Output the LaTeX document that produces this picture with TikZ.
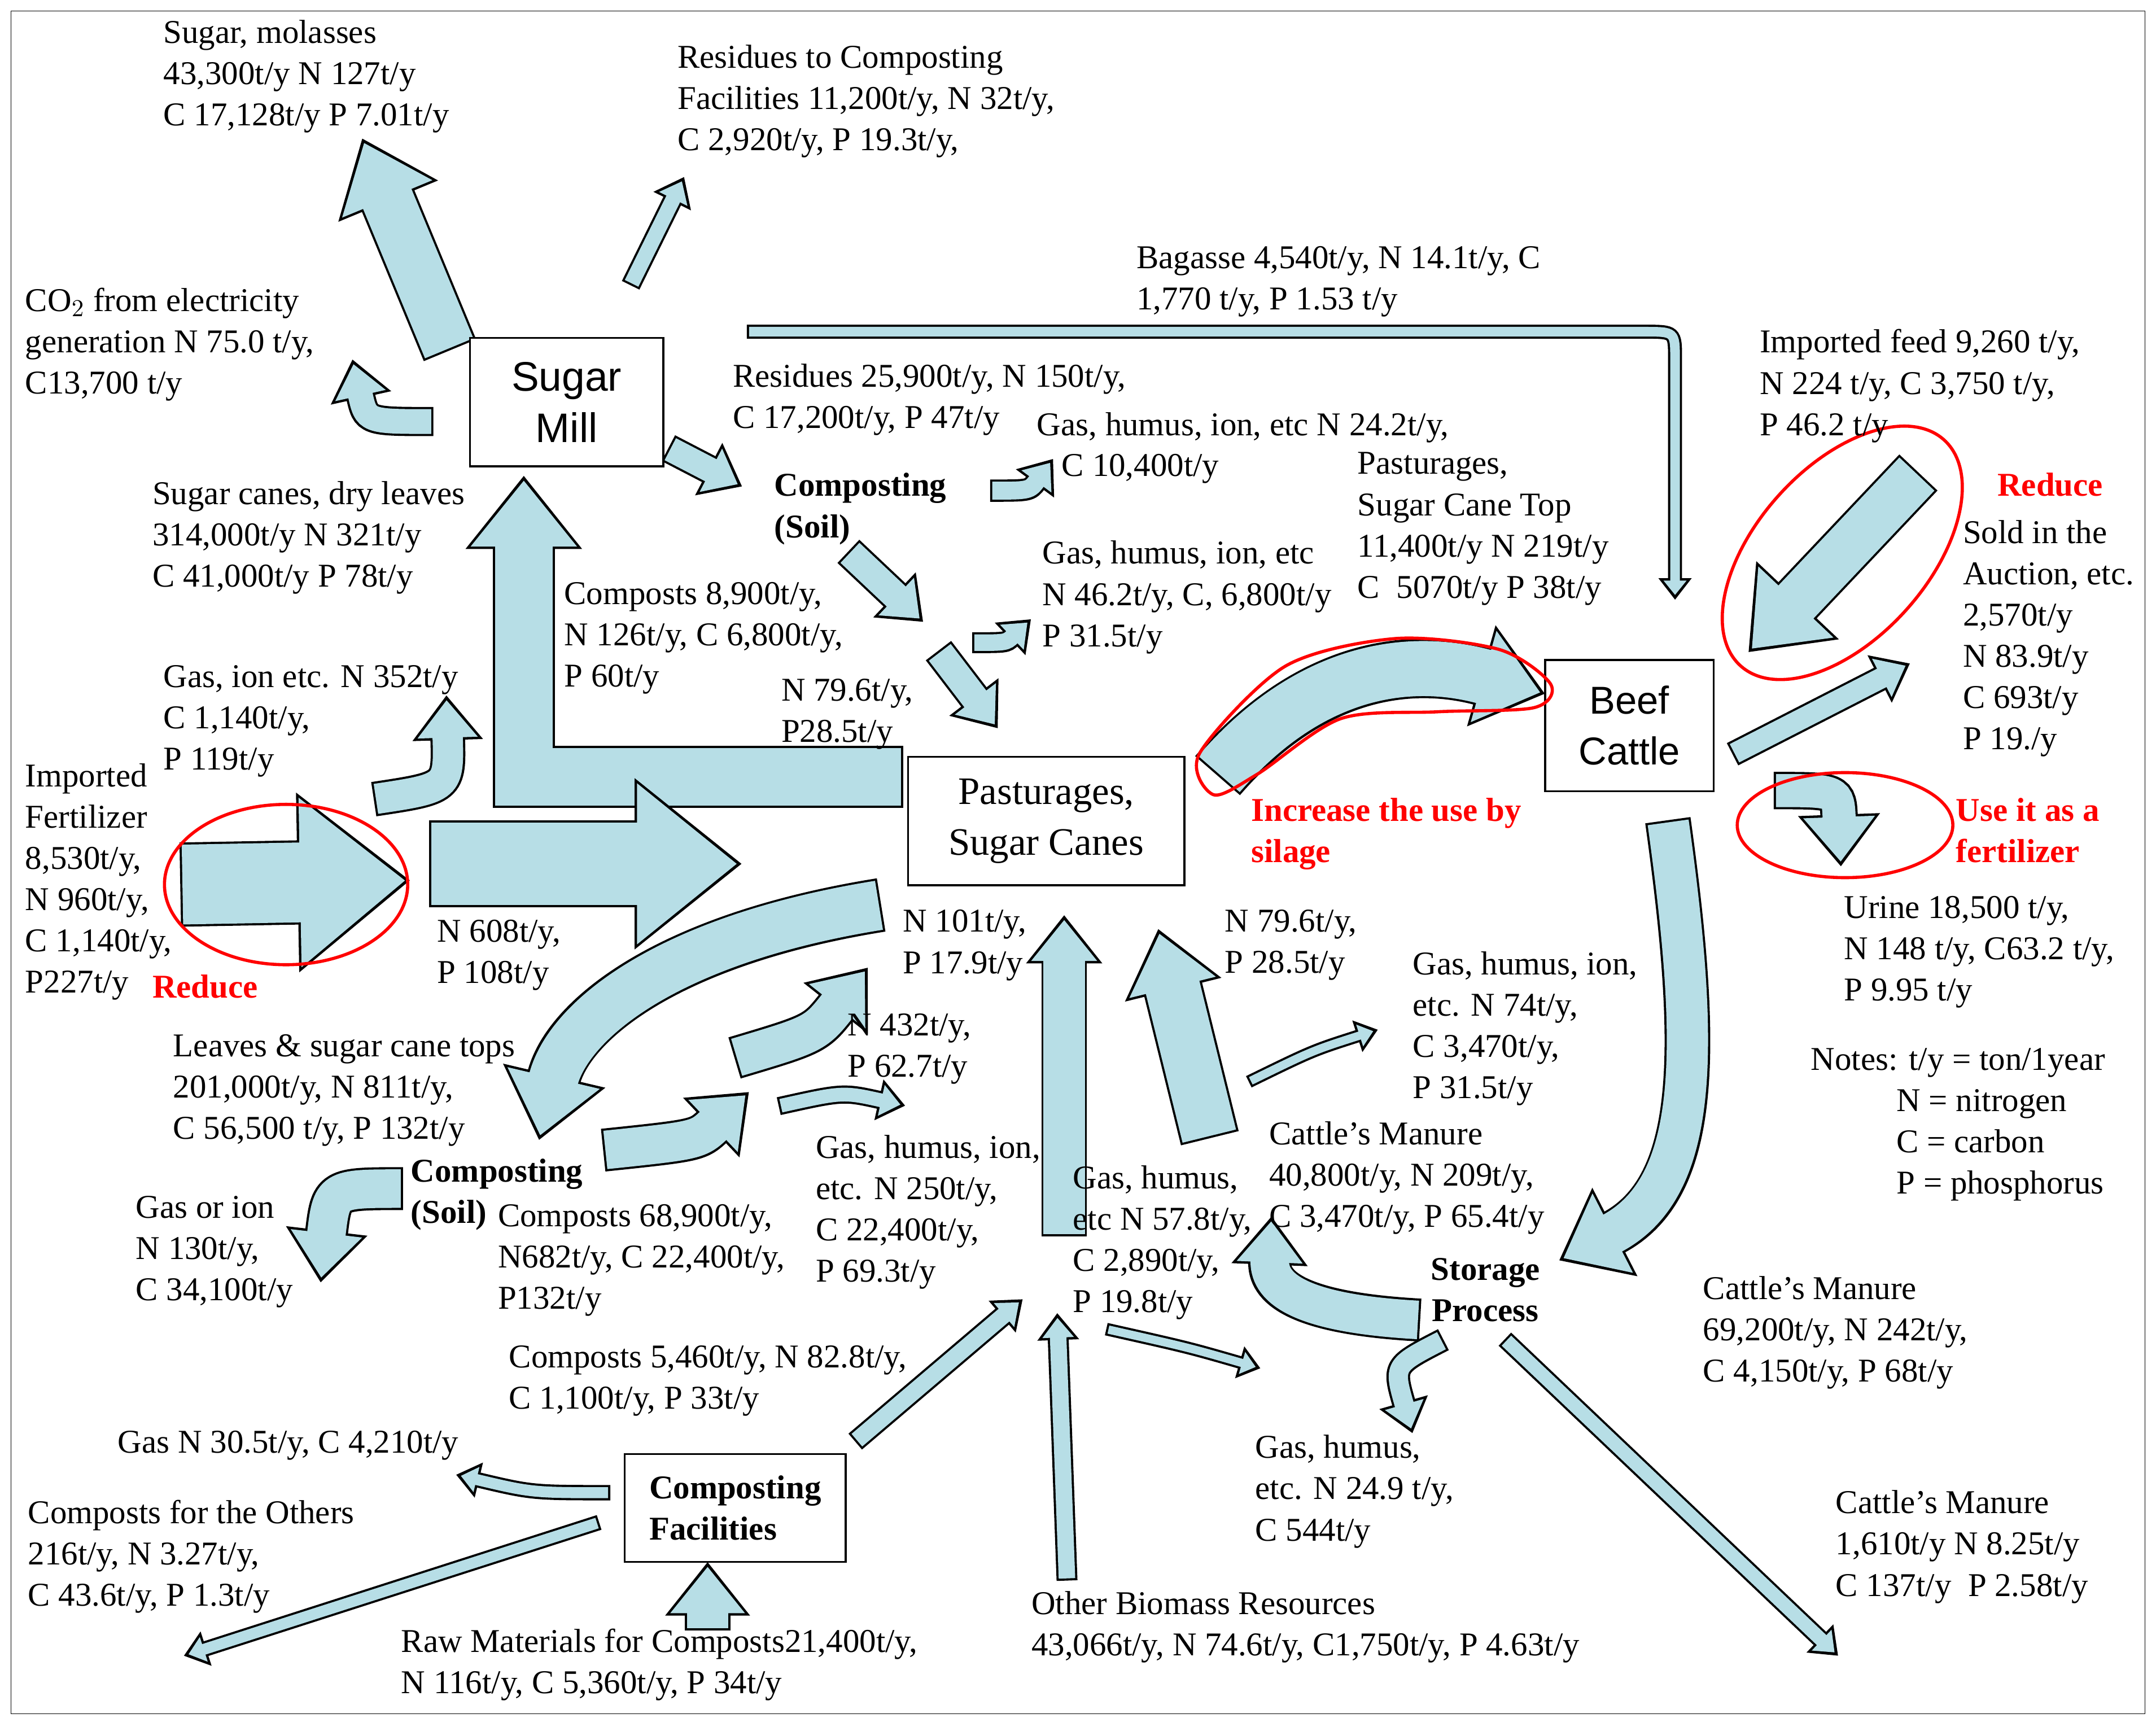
\documentclass[tikz,border=0pt]{standalone}
\usepackage{fontspec}
\setmainfont{Liberation Serif}
\newfontfamily\sans{Liberation Sans}
\usetikzlibrary{arrows.meta,calc}
\definecolor{flowblue}{RGB}{183,222,230}
\tikzset{
  lbl/.style={anchor=north west,inner sep=0pt,align=left,font=\fontsize{13.7}{17}\selectfont},
  bold/.style={lbl,font=\fontsize{13.7}{17}\selectfont\bfseries},
  redbold/.style={bold,text=red},
  box/.style={draw,thick,fill=white,align=center},
  redring/.style={red,line width=1.3pt}
}
% block arrow: shaft width, head width (px), path
\newcommand\flow[3]{%
  \pgfmathsetmacro\fs{#1*0.567}\pgfmathsetmacro\fh{#2*0.567}%
  \pgfmathsetmacro\fso{\fs+1.8}\pgfmathsetmacro\fho{\fh+4}%
  \pgfmathsetmacro\fl{0.65*\fh}\pgfmathsetmacro\flo{\fl+3}%
  \draw[line width=\fso pt,line join=miter,shorten <=-0.9pt,-{Triangle[width=\fho pt,length=\flo pt]}] #3;
  \draw[flowblue,line width=\fs pt,line join=miter,shorten >=2pt,-{Triangle[width=\fh pt,length=\fl pt]}] #3;}
\begin{document}
\begin{tikzpicture}[x=0.02cm,y=-0.02cm]
\useasboundingbox (0,0) rectangle (1560,1243);
\draw (8,8) rectangle (1552,1240);

% flows
\flow{38}{68}{(325,252) -- (262,100)}
\flow{11}{22}{(457,205) -- (495,128)}
\flow{18}{36}{(312,305) .. controls (265,305) .. (255,260)}
\flow{7}{16}{(542,240) -- (1190,240) .. controls (1212,240) .. (1212,260) -- (1212,434)}
\flow{18}{34}{(485,325) -- (537,352)}
\flow{13}{26}{(718,355) .. controls (745,355) .. (762,332)}
\flow{20}{36}{(615,400) -- (668,450)}
\flow{12}{24}{(705,465) .. controls (728,465) .. (746,448)}
\flow{20}{36}{(680,472) -- (722,527)}
\flow{42}{74}{(652,562) -- (379,562) -- (379,344)}
\flow{22}{42}{(272,578) .. controls (325,570) .. (323,503)}
\flow{58}{118}{(132,640) -- (297,637)}
\flow{60}{112}{(312,625) -- (537,625)}
\flow{36}{66}{(636,655) .. controls (480,680) and (410,740) .. (390,825)}
\flow{28}{50}{(533,765) .. controls (590,748) .. (628,700)}
\flow{28}{50}{(438,832) .. controls (505,825) .. (542,790)}
\flow{10}{22}{(565,800) .. controls (610,790) .. (655,800)}
\flow{30}{46}{(770,893) -- (770,662)}
\flow{40}{62}{(875,822) -- (838,672)}
\flow{6}{16}{(905,782) .. controls (950,760) .. (997,745)}
\flow{40}{66}{(882,560) .. controls (960,470) and (1040,480) .. (1118,502)}
\flow{35}{72}{(1387,343) -- (1265,472)}
\flow{15}{30}{(1255,545) -- (1382,480)}
\flow{24}{50}{(1285,572) .. controls (1330,572) .. (1332,627)}
\flow{30}{62}{(1207,595) .. controls (1230,760) and (1230,860) .. (1128,912)}
\flow{28}{46}{(1026,955) .. controls (935,950) and (918,930) .. (920,880)}
\flow{14}{28}{(1043,970) .. controls (1008,988) .. (1022,1037)}
\flow{10}{20}{(1090,970) -- (1330,1198)}
\flow{12}{22}{(772,1142) -- (765,950)}
\flow{6}{16}{(802,962) .. controls (860,975) .. (912,990)}
\flow{12}{22}{(620,1042) -- (740,940)}
\flow{8}{18}{(440,1080) .. controls (385,1080) .. (330,1067)}
\flow{8}{18}{(432,1102) -- (133,1198)}
\flow{30}{52}{(512,1178) -- (512,1130)}
\flow{28}{50}{(290,860) .. controls (240,860) .. (232,928)}

% boxes
\node[box,minimum width=2.8cm,minimum height=1.86cm,font=\sans\fontsize{17}{21}\selectfont] (mill) at (410,291) {Sugar\\Mill};
\node[box,minimum width=4cm,minimum height=1.86cm,font=\fontsize{16}{21}\selectfont] (pasture) at (757,594) {Pasturages,\\Sugar Canes};
\node[box,minimum width=2.44cm,minimum height=1.9cm,font=\sans\fontsize{16}{21}\selectfont] (beef) at (1179,525) {Beef\\Cattle};
\node[box,minimum width=3.2cm,minimum height=1.56cm,font=\fontsize{13.7}{17}\selectfont\bfseries,align=left] (facil) at (532,1091) {Composting\\Facilities};

% red marks
\draw[redring] (207,640) ellipse[x radius=88,y radius=58];
\draw[redring,rotate around={48:(1333,400)}] (1333,400) ellipse[x radius=110,y radius=62];
\draw[redring] (1335,597) ellipse[x radius=78,y radius=38];
\draw[redring] plot[smooth cycle] coordinates {(868,545) (930,482) (1010,462) (1085,470) (1122,495) (1110,512) (1040,515) (970,520) (910,560) (878,575)};

% labels
\node[lbl] (molasses) at (118,14) {Sugar, molasses\\43,300t/y N 127t/y\\C 17,128t/y P 7.01t/y};
\node[lbl] (resfac) at (490,32) {Residues to Composting\\Facilities 11,200t/y, N 32t/y,\\C 2,920t/y, P 19.3t/y,};
\node[lbl] (co2) at (18,208) {CO$_2$ from electricity\\generation N 75.0 t/y,\\C13,700 t/y};
\node[lbl] (bagasse) at (822,178) {Bagasse 4,540t/y, N 14.1t/y, C\\1,770 t/y, P 1.53 t/y};
\node[lbl] (feed) at (1273,238) {Imported feed 9,260 t/y,\\N 224 t/y, C 3,750 t/y,\\P 46.2 t/y};
\node[lbl] (residues) at (530,263) {Residues 25,900t/y, N 150t/y,\\C 17,200t/y, P 47t/y};
\node[lbl] (gas1) at (750,298) {Gas, humus, ion, etc N 24.2t/y,};
\node[lbl] (gas1b) at (768,328) {C 10,400t/y};
\node[lbl] (cantop) at (982,327) {Pasturages,\\Sugar Cane Top\\11,400t/y N 219t/y\\C \ 5070t/y P 38t/y};
\node[lbl] (canes) at (110,348) {Sugar canes, dry leaves\\314,000t/y N 321t/y\\C 41,000t/y P 78t/y};
\node[bold] (comp1) at (560,342) {Composting\\(Soil)};
\node[lbl] (gas2) at (754,391) {Gas, humus, ion, etc\\N 46.2t/y, C, 6,800t/y\\P 31.5t/y};
\node[lbl] (composts1) at (408,421) {Composts 8,900t/y,\\N 126t/y, C 6,800t/y,\\P 60t/y};
\node[redbold] (reduce1) at (1445,342) {Reduce};
\node[lbl] (sold) at (1420,376) {Sold in the\\Auction, etc.\\2,570t/y\\N 83.9t/y\\C 693t/y\\P 19./y};
\node[lbl] (gasion) at (118,481) {Gas, ion etc. N 352t/y\\C 1,140t/y,\\P 119t/y};
\node[lbl] (n796a) at (565,491) {N 79.6t/y,\\P28.5t/y};
\node[lbl] (fert) at (18,552) {Imported\\Fertilizer\\8,530t/y,\\N 960t/y,\\C 1,140t/y,\\P227t/y};
\node[redbold] (reduce2) at (110,705) {Reduce};
\node[redbold] (silage) at (905,577) {Increase the use by\\silage};
\node[redbold] (usefert) at (1415,577) {Use it as a\\fertilizer};
\node[lbl] (n608) at (316,665) {N 608t/y,\\P 108t/y};
\node[lbl] (n101) at (653,658) {N 101t/y,\\P 17.9t/y};
\node[lbl] (n796b) at (886,658) {N 79.6t/y,\\P 28.5t/y};
\node[lbl] (urine) at (1334,648) {Urine 18,500 t/y,\\N 148 t/y, C63.2 t/y,\\P 9.95 t/y};
\node[lbl] (gas3) at (1022,688) {Gas, humus, ion,\\etc. N 74t/y,\\C 3,470t/y,\\P 31.5t/y};
\node[lbl] (n432) at (613,733) {N 432t/y,\\P 62.7t/y};
\node[lbl] (leaves) at (125,748) {Leaves \& sugar cane tops\\201,000t/y, N 811t/y,\\C 56,500 t/y, P 132t/y};
\node[lbl] (notes) at (1310,758) {Notes: t/y = ton/1year\\\hspace*{1.24cm}N = nitrogen\\\hspace*{1.24cm}C = carbon\\\hspace*{1.24cm}P = phosphorus};
\node[lbl] (manure1) at (918,811) {Cattle's Manure\\40,800t/y, N 209t/y,\\C 3,470t/y, P 65.4t/y};
\node[lbl] (gas4) at (590,821) {Gas, humus, ion,\\etc. N 250t/y,\\C 22,400t/y,\\P 69.3t/y};
\node[lbl] (gas5) at (776,843) {Gas, humus,\\etc N 57.8t/y,\\C 2,890t/y,\\P 19.8t/y};
\node[bold] (comp2) at (297,838) {Composting\\(Soil)};
\node[lbl] (gasor) at (98,865) {Gas or ion\\N 130t/y,\\C 34,100t/y};
\node[lbl] (composts2) at (360,871) {Composts 68,900t/y,\\N682t/y, C 22,400t/y,\\P132t/y};
\node[bold,align=center] (storage) at (1035,910) {Storage\\Process};
\node[lbl] (manure2) at (1232,923) {Cattle's Manure\\69,200t/y, N 242t/y,\\C 4,150t/y, P 68t/y};
\node[lbl] (composts3) at (368,973) {Composts 5,460t/y, N 82.8t/y,\\C 1,100t/y, P 33t/y};
\node[lbl] (gas6) at (85,1035) {Gas N 30.5t/y, C 4,210t/y};
\node[lbl] (gas7) at (908,1038) {Gas, humus,\\etc. N 24.9 t/y,\\C 544t/y};
\node[lbl] (others) at (20,1085) {Composts for the Others\\216t/y, N 3.27t/y,\\C 43.6t/y, P 1.3t/y};
\node[lbl] (manure3) at (1328,1078) {Cattle's Manure\\1,610t/y N 8.25t/y\\C 137t/y \ P 2.58t/y};
\node[lbl] (biomass) at (746,1151) {Other Biomass Resources\\43,066t/y, N 74.6t/y, C1,750t/y, P 4.63t/y};
\node[lbl] (raw) at (290,1178) {Raw Materials for Composts21,400t/y,\\N 116t/y, C 5,360t/y, P 34t/y};
\end{tikzpicture}
\end{document}
